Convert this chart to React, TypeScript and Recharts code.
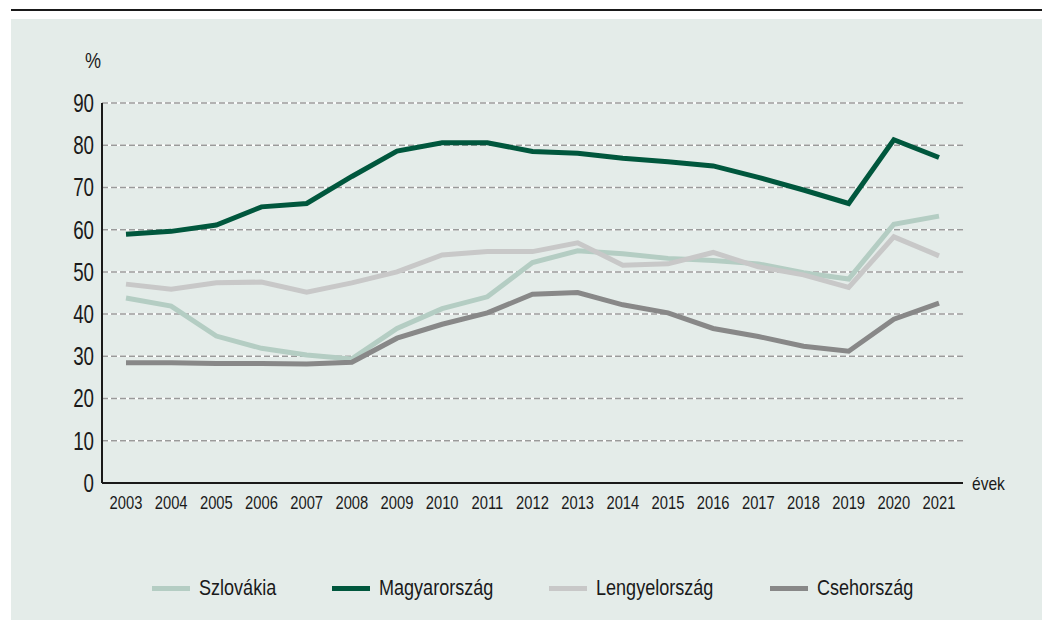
import { LineChart, Line, XAxis, YAxis, CartesianGrid, Legend } from "recharts";

const years = [
  "2003", "2004", "2005", "2006", "2007", "2008", "2009", "2010", "2011", "2012",
  "2013", "2014", "2015", "2016", "2017", "2018", "2019", "2020", "2021",
];
const szlovakia = [43.8, 41.9, 34.8, 31.9, 30.3, 29.4, 36.6, 41.3, 44.1, 52.2, 55.0, 54.3, 53.2, 52.7, 51.9, 49.8, 48.3, 61.3, 63.2];
const magyarorszag = [58.9, 59.6, 61.1, 65.4, 66.2, 72.6, 78.6, 80.6, 80.6, 78.5, 78.1, 76.9, 76.1, 75.1, 72.4, 69.4, 66.2, 81.3, 77.1];
const lengyelorszag = [47.1, 45.9, 47.4, 47.6, 45.2, 47.4, 50.0, 54.0, 54.8, 54.8, 56.9, 51.6, 51.9, 54.6, 51.2, 49.3, 46.3, 58.3, 53.8];
const csehorszag = [28.5, 28.5, 28.3, 28.3, 28.2, 28.6, 34.3, 37.6, 40.3, 44.7, 45.1, 42.2, 40.3, 36.6, 34.7, 32.4, 31.2, 38.8, 42.6];
const yTicks = [0, 10, 20, 30, 40, 50, 60, 70, 80, 90];

// legend order differs from drawing order
const series = [
  { key: "Szlovákia", color: "#b4cdc3" },
  { key: "Magyarország", color: "#00573d" },
  { key: "Lengyelország", color: "#c8c8c8" },
  { key: "Csehország", color: "#888888" },
];

const data = years.map((ev, i) => ({
  ev,
  "Szlovákia": szlovakia[i],
  "Magyarország": magyarorszag[i],
  "Lengyelország": lengyelorszag[i],
  "Csehország": csehorszag[i],
}));

// no narrow font installed, so squeeze Liberation Sans horizontally
const FONT = "'Liberation Sans', Arial, sans-serif";
const SQUEEZE = 0.82;
const INK = "#1a1a1a";

let ctx: CanvasRenderingContext2D | null = null;
function textWidth(t: string, size: number) {
  if (!ctx) ctx = document.createElement("canvas").getContext("2d");
  if (!ctx) return t.length * size * 0.5;
  ctx.font = `${size}px ${FONT}`;
  return ctx.measureText(t).width;
}

const XTick = ({ x, y, payload }: any) => (
  <g transform={`translate(${x},${y})`}>
    <text transform={`scale(${SQUEEZE},1)`} textAnchor="middle" dy="0.71em" fontSize={18} fontFamily={FONT} fill={INK}>
      {payload.value}
    </text>
  </g>
);

const YTick = ({ x, y, payload }: any) => (
  <g transform={`translate(${x},${y})`}>
    <text transform="scale(0.75,1)" textAnchor="end" dy="0.355em" fontSize={25} fontFamily={FONT} fill={INK}>
      {payload.value}
    </text>
  </g>
);

const Squeezed = ({ text, size, style }: any) => (
  <span style={{ display: "inline-block", width: textWidth(text, size) * SQUEEZE, whiteSpace: "nowrap", ...style }}>
    <span
      style={{
        display: "inline-block",
        fontFamily: FONT,
        fontSize: size,
        lineHeight: 1,
        color: INK,
        transform: `scaleX(${SQUEEZE})`,
        transformOrigin: "0 0",
      }}
    >
      {text}
    </span>
  </span>
);

const LegendContent = () => (
  <div style={{ display: "flex", justifyContent: "center", alignItems: "center", gap: 56 }}>
    {series.map((s) => (
      <div key={s.key} style={{ display: "flex", alignItems: "center", gap: 9 }}>
        <span style={{ display: "inline-block", width: 38, height: 5, background: s.color }} />
        <Squeezed text={s.key} size={22} />
      </div>
    ))}
  </div>
);

export default function App() {
  return (
    <div style={{ position: "fixed", left: 0, top: 0, width: 1042, height: 620, background: "#fff" }}>
      <div style={{ position: "absolute", left: 11, top: 9, width: 1031, height: 2, background: INK }} />
      <div style={{ position: "absolute", left: 11, top: 19, width: 1031, height: 601, background: "#e4ece9" }}>
        <Squeezed text="%" size={22} style={{ position: "absolute", left: 74, top: 31 }} />
        <Squeezed text="évek" size={19} style={{ position: "absolute", left: 961, top: 455 }} />
        <LineChart
          width={1031}
          height={601}
          data={data}
          margin={{ top: 84, right: 79, bottom: 97, left: 11 }}
        >
          <CartesianGrid vertical={false} stroke="#ffffff" strokeWidth={1.5} />
          <CartesianGrid vertical={false} stroke="#9a9a9a" strokeWidth={1.5} strokeDasharray="6 3" />
          <XAxis
            dataKey="ev"
            height={40}
            padding={{ left: 24, right: 24 }}
            tickLine={false}
            tickMargin={7}
            axisLine={{ stroke: INK, strokeWidth: 2 }}
            tick={<XTick />}
            interval={0}
          />
          <YAxis
            width={80}
            domain={[0, 90]}
            ticks={yTicks}
            tickLine={false}
            axisLine={{ stroke: INK, strokeWidth: 2 }}
            tick={<YTick />}
          />
          <Legend
            layout="horizontal"
            verticalAlign="middle"
            content={<LegendContent />}
            wrapperStyle={{ top: 558, left: 91, width: 861 }}
          />
          <Line dataKey="Szlovákia" stroke="#b4cdc3" strokeWidth={5} dot={false} activeDot={false} isAnimationActive={false} />
          <Line dataKey="Csehország" stroke="#888888" strokeWidth={5} dot={false} activeDot={false} isAnimationActive={false} />
          <Line dataKey="Magyarország" stroke="#00573d" strokeWidth={5} dot={false} activeDot={false} isAnimationActive={false} />
          <Line dataKey="Lengyelország" stroke="#c8c8c8" strokeWidth={5} dot={false} activeDot={false} isAnimationActive={false} />
        </LineChart>
      </div>
    </div>
  );
}
